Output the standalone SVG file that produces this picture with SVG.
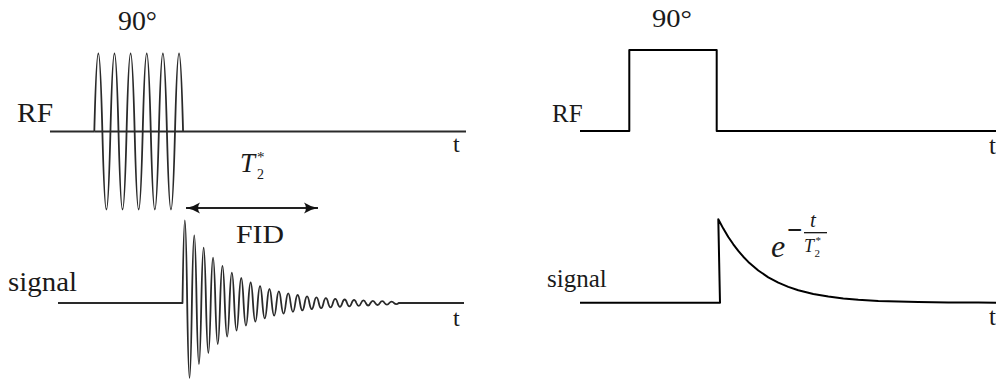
<svg xmlns="http://www.w3.org/2000/svg" width="996" height="385" viewBox="0 0 996 385">
<defs>
<style>
.lbl{font-family:"Liberation Serif","Times New Roman",serif;fill:#1a1a1a}
.lt{stroke:#2a2a2a;stroke-width:1.8;fill:none;stroke-linejoin:round}
.rt{stroke:#000;stroke-width:2;fill:none;stroke-linejoin:round}
.it{font-style:italic}
</style>
<marker id="ah" markerUnits="userSpaceOnUse" markerWidth="16" markerHeight="12" viewBox="0 0 16 12" refX="15" refY="6" orient="auto-start-reverse">
<path d="M1,0.5 Q8,5 15,6 Q8,7 1,11.5 Q5,6 1,0.5 Z" fill="#111"/>
</marker>
</defs>
<rect width="996" height="385" fill="#fff"/>

<g id="left-rf">
<text class="lbl" x="118" y="30" font-size="27" textLength="39" lengthAdjust="spacingAndGlyphs">90°</text>
<text class="lbl" x="17" y="122" font-size="27" textLength="36" lengthAdjust="spacingAndGlyphs">RF</text>
<path class="lt" d="M50 131.5 H94.3"/>
<path class="lt" stroke-width="1.6" d="M94.3 131.5 Q98.33 -24.5 102.37 131.5 Q106.4 287.5 110.44 131.5 Q114.47 -24.5 118.51 131.5 Q122.54 287.5 126.58 131.5 Q130.61 -24.5 134.65 131.5 Q138.68 287.5 142.72 131.5 Q146.75 -24.5 150.79 131.5 Q154.82 287.5 158.86 131.5 Q162.89 -24.5 166.93 131.5 Q170.96 287.5 175 131.5 Q179.03 -24.5 183.07 131.5"/>
<path class="lt" d="M94.3 131.5 H466"/>
<text class="lbl" x="453" y="152" font-size="24">t</text>
</g>

<g id="left-signal">
<text class="lbl" x="8" y="291" font-size="27" textLength="69" lengthAdjust="spacingAndGlyphs">signal</text>
<path class="lt" stroke-width="1.6" d="M58 303 H182.5 Q184.85 137.6 187.2 303 Q189.55 452.6 191.9 303 Q194.25 167.8 196.6 303 Q198.95 425.2 201.3 303 Q203.65 192.4 206 303 Q208.35 403 210.7 303 Q213.05 212.4 215.4 303 Q217.75 385 220.1 303 Q222.45 228.8 224.8 303 Q227.15 370.2 229.5 303 Q231.85 242.2 234.2 303 Q236.55 358.2 238.9 303 Q241.25 253 243.6 303 Q245.95 348.2 248.3 303 Q250.65 262 253 303 Q255.35 340.2 257.7 303 Q260.05 269.2 262.4 303 Q264.75 333.8 267.1 303 Q269.45 275 271.8 303 Q274.15 328.4 276.5 303 Q278.85 279.8 281.2 303 Q283.55 324.2 285.9 303 Q288.25 283.8 290.6 303 Q292.95 320.6 295.3 303 Q297.65 287 300 303 Q302.35 317.8 304.7 303 Q307.05 289.6 309.4 303 Q311.75 315.4 314.1 303 Q316.45 291.6 318.8 303 Q321.15 313.4 323.5 303 Q325.85 293.4 328.2 303 Q330.55 311.8 332.9 303 Q335.25 294.8 337.6 303 Q339.95 310.6 342.3 303 Q344.65 296 347 303 Q349.35 309.6 351.7 303 Q354.05 296.8 356.4 303 Q358.75 308.8 361.1 303 Q363.45 297.6 365.8 303 Q368.15 308 370.5 303 Q372.85 298.6 375.2 303 Q377.55 307 379.9 303 Q382.25 299.4 384.6 303 Q386.95 306.2 389.3 303 Q391.65 300.2 394 303 Q396.35 305.4 398.7 303 H464"/>
<text class="lbl" x="453" y="326" font-size="24">t</text>
</g>

<g id="left-labels">
<text class="lbl it" x="240" y="172" font-size="27">T</text>
<text class="lbl" x="257" y="179" font-size="14">2</text>
<text class="lbl" x="257" y="162" font-size="15">*</text>
<text class="lbl" x="236" y="243" font-size="26" textLength="48" lengthAdjust="spacingAndGlyphs">FID</text>
</g>

<g id="connectors">
<line x1="186" y1="208" x2="318" y2="208" stroke="#222" stroke-width="1.8" marker-start="url(#ah)" marker-end="url(#ah)"/>
</g>

<g id="right-rf">
<text class="lbl" x="652" y="27" font-size="26" textLength="40" lengthAdjust="spacingAndGlyphs">90°</text>
<text class="lbl" x="552" y="121.5" font-size="25">RF</text>
<path class="rt" d="M580 131 H629.3 V50 H716.7 V131 H996"/>
<text class="lbl" x="989" y="154" font-size="25">t</text>
</g>

<g id="right-signal">
<text class="lbl" x="547" y="287" font-size="25">signal</text>
<polyline class="rt" points="580,302.7 720,302.7 718.3,219.3 723.3,228.6 728.3,237 733.3,244.3 738.3,250.9 743.3,256.7 748.3,261.9 758.3,270.5 768.3,277.3 778.3,282.7 788.3,286.9 798.3,290.3 813.3,294 828.3,296.6 843.3,298.4 858.3,299.7 878.3,300.9 898.3,301.6 918.3,302 948.3,302.4 978.3,302.6 996,302.7"/>
<text class="lbl" x="989" y="325" font-size="25">t</text>
</g>

<g id="right-formula">
<text class="lbl it" x="771" y="257" font-size="32">e</text>
<text class="lbl" x="787" y="239" font-size="27" font-weight="bold">−</text>
<text class="lbl it" x="810" y="227" font-size="21">t</text>
<line x1="804" y1="232.7" x2="827" y2="232.7" stroke="#000" stroke-width="1.2"/>
<text class="lbl it" x="804" y="252" font-size="18">T</text>
<text class="lbl" x="814.5" y="257" font-size="11">2</text>
<text class="lbl" x="815.5" y="243.5" font-size="11">*</text>
</g>
</svg>
